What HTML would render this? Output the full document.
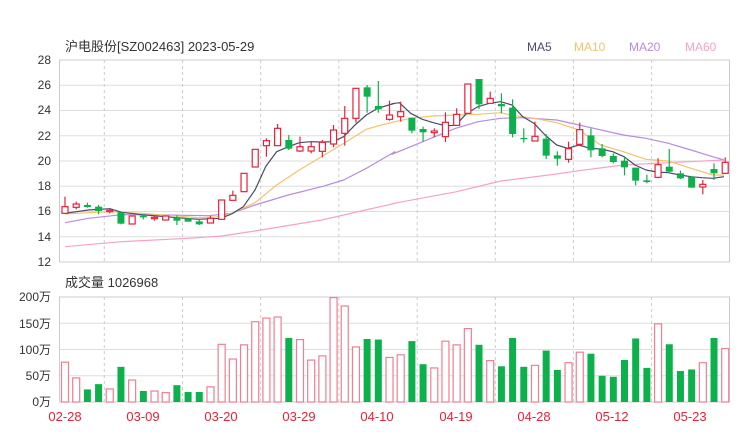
<!DOCTYPE html>
<html><head><meta charset="utf-8"><style>
body{margin:0;background:#fff;width:740px;height:440px;overflow:hidden}
svg{display:block;font-family:"Liberation Sans","Noto Sans CJK SC",sans-serif}
</style></head><body>
<svg id="s" width="740" height="440" viewBox="0 0 740 440">
<rect width="740" height="440" fill="#fff"/>
<g id="grid"></g>
<g id="ma"></g>
<g id="cd"></g>
<text x="65" y="51" font-size="13" fill="#333">沪电股份[SZ002463] 2023-05-29</text>
<text x="527" y="51" font-size="12" fill="#4a4a6a">MA5</text>
<text x="574" y="51" font-size="12" fill="#f5c26b">MA10</text>
<text x="629" y="51" font-size="12" fill="#b98be0">MA20</text>
<text x="685" y="51" font-size="12" fill="#f7a1c9">MA60</text>
<g font-size="12" fill="#333" text-anchor="end">
<text x="51" y="64">28</text><text x="51" y="89">26</text><text x="51" y="114">24</text>
<text x="51" y="140">22</text><text x="51" y="165">20</text><text x="51" y="190">18</text>
<text x="51" y="215">16</text><text x="51" y="241">14</text><text x="51" y="266">12</text>
<text x="51" y="301">200万</text><text x="51" y="328">150万</text><text x="51" y="354">100万</text>
<text x="51" y="380">50万</text><text x="51" y="406">0万</text>
</g>
<text x="65" y="287" font-size="13" fill="#333">成交量 1026968</text>
<g font-size="13" fill="#e8213a" text-anchor="middle">
<text x="65" y="421">02-28</text><text x="143" y="421">03-09</text><text x="221" y="421">03-20</text>
<text x="299" y="421">03-29</text><text x="377" y="421">04-10</text><text x="456" y="421">04-19</text>
<text x="534" y="421">04-28</text><text x="612" y="421">05-12</text><text x="690" y="421">05-23</text>
</g>
</svg>
<script>
var NS="http://www.w3.org/2000/svg";
function el(p,t,a){var e=document.createElementNS(NS,t);for(var k in a)e.setAttribute(k,a[k]);document.getElementById(p).appendChild(e);return e;}
var L=59.5,R=729.5;
for(var i=0;i<9;i++){var y=60+i*25.25;el("grid","line",{x1:L,x2:R,y1:y,y2:y,stroke:"#ddd","stroke-width":1});}
for(var i=0;i<5;i++){var y=297+i*26.25;el("grid","line",{x1:L,x2:R,y1:y,y2:y,stroke:"#ddd","stroke-width":1});}
[104.3,182.5,260.7,338.8,417.2,495.3,573.4,651.6].forEach(function(x){
 el("grid","line",{x1:x,x2:x,y1:60,y2:262,stroke:"#ccc","stroke-dasharray":"3,3"});
 el("grid","line",{x1:x,x2:x,y1:297,y2:402,stroke:"#ccc","stroke-dasharray":"3,3"});
});
el("grid","rect",{x:L,y:60,width:R-L,height:202,fill:"none",stroke:"#ccc"});
el("grid","rect",{x:L,y:297,width:R-L,height:105,fill:"none",stroke:"#ccc"});
// candles in zoom coords: [type, bodyTop, bodyBot, wickTop, wickBot]
var c1=[["r",470,490,440,492],["r",462,472,455,478],["g",465,471,458,473],["g",470,483,465,493],["r",481,485,477,490],["g",487,521,485,523],["r",498,522,498,522],["g",497,502,492,508],["r",502,506,496,512],["r",498,510,498,510],["g",502,512,496,525],["g",505,515,505,515],["g",514,523,510,525],["r",505,519,498,520],["r",450,508,450,508],["r",436,451,422,451],["r",370,425,370,425],["r",298,351,298,351],["r",272,287,265,320],["r",235,287,222,287],["g",270,296,255,300],["r",290,303,260,306],["r",290,303,273,310],["r",277,304,270,322],["r",240,282,225,292],["r",205,250,168,287],["r",115,205,115,218],["g",112,140,105,188],["g",168,178,93,188],["r",195,208,152,212]];
var c2=[["r",185,200,155,215],["g",203,242,203,250],["g",237,247,230,275],["r",243,248,235,262],["r",217,260,187,276],["r",193,226,175,228],["r",102,190,102,192],["g",87,163,87,177],["r",145,160,125,162],["g",162,169,130,190],["g",173,252,148,262],["g",264,267,235,278],["r",259,273,215,273],["g",266,317,252,327],["g",316,326,304,347],["r",296,328,275,338],["r",239,283,218,285],["g",256,301,235,322],["g",295,318,282,322],["g",318,336,310,340],["g",332,352,318,376],["g",353,392,353,406],["g",391,396,374,400],["r",344,382,325,385],["g",350,365,297,369],["g",370,385,362,387],["g",380,413,380,413],["r",403,411,390,433],["g",357,370,340,390],["r",337,370,322,372]];
var C=c1.map(function(c){return [c[0],50+c[1]/3,50+c[2]/3,50+c[3]/3,50+c[4]/3]}).concat(c2.map(function(c){return [c[0],50+c[1]/3,50+c[2]/3,50+c[3]/3,50+c[4]/3]}));
var V=[77,47,24,34,26,67,43,21,22,19,32,19,19,30,111,83,110,154,161,163,122,120,81,89,200,184,106,120,119,86,91,116,72,66,117,110,141,109,80,68,122,67,71,98,61,76,96,92,50,48,80,121,65,150,110,59,62,76,122,103];
var RED="#e8213a",GR="#0db14b";
C.forEach(function(c,i){
 var x=65+i*11.19,col=c[0]=="r"?RED:GR;
 el("cd","line",{x1:x,x2:x,y1:c[3],y2:c[4],stroke:col,"stroke-width":1.2});
 var h=Math.max(c[2]-c[1],1.2);
 if(c[0]=="r")el("cd","rect",{x:x-3,y:c[1],width:6,height:h,fill:"#fff",stroke:col,"stroke-width":1.2});
 else el("cd","rect",{x:x-3.5,y:c[1],width:7,height:h,fill:col});
 var vh=V[i]*105/200;
 if(c[0]=="r")el("cd","rect",{x:x-3.5,y:402-vh+0.6,width:7,height:vh-0.6,fill:"#fff",stroke:"#f07f8f","stroke-width":1.2});
 else el("cd","rect",{x:x-3.5,y:402-vh,width:7,height:vh,fill:GR});
});
function ma(a,b,col){
 var p=a.map(function(q){return (55+q[0]/3)+","+(50+q[1]/3)}).concat(b.map(function(q){return (390+q[0]/3)+","+(50+q[1]/3)}));
 el("ma","polyline",{points:p.join(" "),fill:"none",stroke:col,"stroke-width":1.2,"stroke-linejoin":"round"});
}
ma([[30,590],[200,575],[400,565],[500,558],[600,543],[800,510],[1020,460]],[[6,461],[200,425],[332,393],[500,372],[567,362],[700,345],[835,338],[1002,330]],"#f7a1c9");
ma([[30,518],[100,505],[200,494],[330,495],[460,497],[530,490],[600,465],[700,435],[800,410],[866,390],[934,355],[1020,305]],[[6,313],[62,290],[130,262],[197,235],[264,215],[332,205],[398,203],[500,210],[567,225],[700,255],[768,265],[835,280],[903,300],[968,320],[1002,330]],"#b98be0");
ma([[30,492],[100,488],[165,485],[260,490],[430,503],[497,500],[530,490],[600,458],[665,405],[733,360],[800,320],[866,280],[934,238],[968,228],[1020,215]],[[6,217],[62,205],[130,198],[197,195],[264,193],[332,188],[366,196],[432,205],[500,218],[567,240],[632,285],[700,305],[768,328],[835,333],[903,355],[968,375],[1002,375]],"#f5c26b");
ma([[30,490],[100,480],[165,476],[200,487],[260,494],[330,500],[430,508],[497,505],[530,492],[565,470],[600,420],[632,350],[665,305],[700,290],[733,278],[767,275],[800,276],[833,275],[866,260],[900,225],[934,195],[968,175],[1001,165],[1020,160]],[[6,161],[28,158],[62,190],[97,208],[130,218],[165,227],[197,226],[230,190],[264,170],[298,160],[332,155],[366,165],[398,200],[432,220],[465,255],[500,285],[533,295],[567,285],[600,295],[632,297],[668,305],[702,320],[735,345],[768,360],[800,366],[835,368],[870,375],[903,380],[935,383],[968,385],[1002,380]],"#4a4a6a");
</script>
</body></html>
